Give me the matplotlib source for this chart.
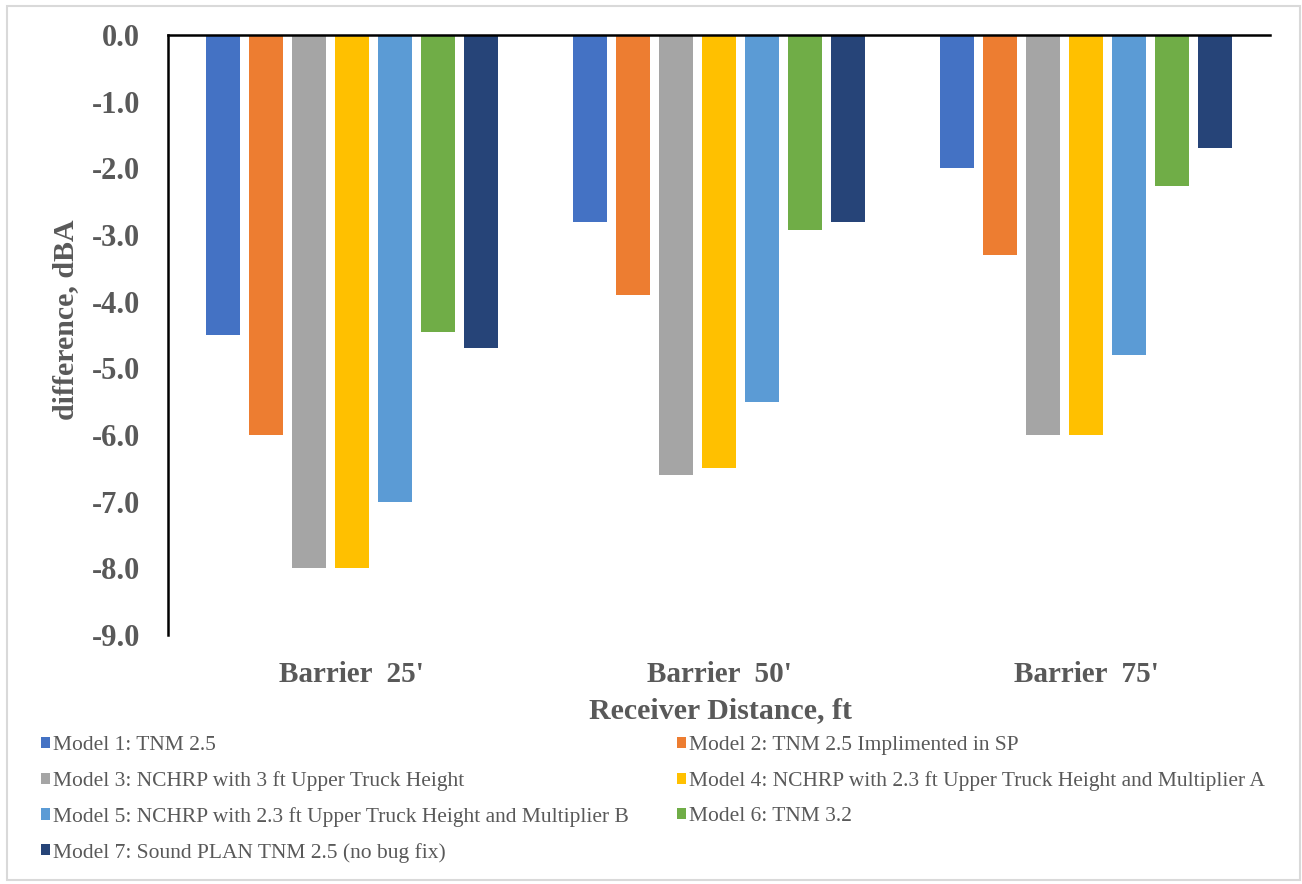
import matplotlib.pyplot as plt
from matplotlib.patches import Rectangle, Patch
import numpy as np

plt.rcParams['font.family'] = ['Liberation Serif', 'DejaVu Serif']

categories = ["Barrier  25'", "Barrier  50'", "Barrier  75'"]
models = [
    'Model 1: TNM 2.5',
    'Model 2: TNM 2.5 Implimented in SP',
    'Model 3: NCHRP with 3 ft Upper Truck Height',
    'Model 4: NCHRP with 2.3 ft Upper Truck Height and Multiplier A',
    'Model 5: NCHRP with 2.3 ft Upper Truck Height and Multiplier B',
    'Model 6: TNM 3.2',
    'Model 7: Sound PLAN TNM 2.5 (no bug fix)',
]
# difference (dBA) per model, one value per barrier distance
model1 = [-4.5, -2.8, -2.0]
model2 = [-6.0, -3.9, -3.3]
model3 = [-8.0, -6.6, -6.0]
model4 = [-8.0, -6.5, -6.0]
model5 = [-7.0, -5.5, -4.8]
model6 = [-4.45, -2.93, -2.27]
model7 = [-4.7, -2.8, -1.7]
yticks = [0, -1, -2, -3, -4, -5, -6, -7, -8, -9]

series = [model1, model2, model3, model4, model5, model6, model7]
colors = ['#4472C4', '#ED7D31', '#A5A5A5', '#FFC000', '#5B9BD5', '#70AD47', '#264478']
txt = '#595959'

fig = plt.figure(figsize=(13.02, 8.84), dpi=100)
ax = fig.add_axes([168/1302, 1-635/884, (1270-168)/1302, 600/884])

x = np.arange(len(categories))
pitch = 43/367
width = 34/367
for i, (vals, c) in enumerate(zip(series, colors)):
    ax.bar(x + (i - 3)*pitch, vals, width=width, color=c, label=models[i], zorder=2)

ax.set_xlim(-0.5, 2.5)
ax.set_ylim(-9, 0)
ax.set_yticks(yticks)
ax.set_yticklabels(['%.1f' % v for v in yticks])
ax.set_xticks(x)
ax.set_xticklabels(categories)
ax.tick_params(axis='y', length=0, pad=20, labelsize=22, labelcolor=txt)
ax.tick_params(axis='x', length=0, pad=19, labelsize=21, labelcolor=txt)
for lab in ax.get_xticklabels() + ax.get_yticklabels():
    lab.set_fontweight('bold')

ax.spines['bottom'].set_visible(False)
ax.spines['right'].set_visible(False)
ax.spines['top'].set_linewidth(1.8)
ax.spines['left'].set_linewidth(1.8)
ax.spines['top'].set_zorder(3)

fig.text(66/1302, 1-320/884, 'difference, dBA', rotation=90, ha='center', va='center',
         fontsize=21.5, fontweight='bold', color=txt)
fig.text(720/1302, 1-711/884, 'Receiver Distance, ft', ha='center', va='center',
         fontsize=21.5, fontweight='bold', color=txt)

# legend laid out row by row in two columns
handles = [Patch(facecolor=c, label=m) for c, m in zip(colors, models)]
leg_kw = dict(frameon=False, fontsize=15.5, handlelength=0.42, handleheight=0.42,
              handletextpad=0.15, labelspacing=0.74, borderpad=0, borderaxespad=0,
              loc='upper left', labelcolor=txt)
leg1 = fig.legend(handles=handles[0::2], bbox_to_anchor=(41/1302, 1-736/884), **leg_kw)
leg2 = fig.legend(handles=handles[1::2], bbox_to_anchor=(677/1302, 1-736/884), **leg_kw)

fig.patches.append(Rectangle((7/1302, 4/884), 1293/1302, 874/884, transform=fig.transFigure,
                             fill=False, edgecolor='#D9D9D9', linewidth=1.5))

fig.savefig('out.png', dpi=100)
